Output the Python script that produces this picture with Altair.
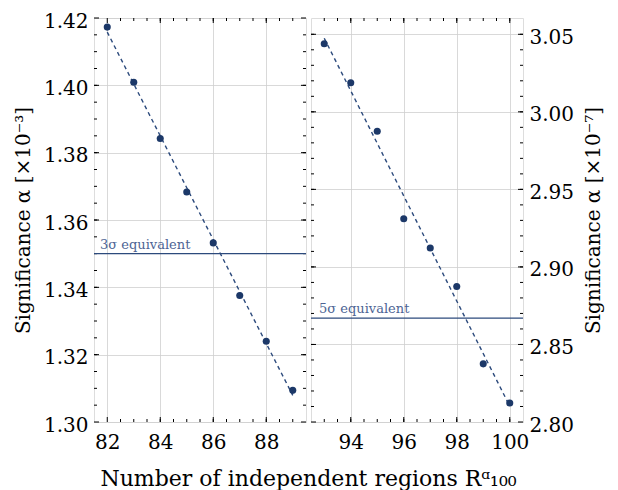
import altair as alt
import pandas as pd

# ---- data ----
x_left = [82, 83, 84, 85, 86, 87, 88, 89]
y_left = [1.4173, 1.4009, 1.3842, 1.3683, 1.3532, 1.3376, 1.3240, 1.3094]
x_right = [93, 94, 95, 96, 97, 98, 99, 100]
y_right = [3.0439, 3.0187, 2.9875, 2.9311, 2.9122, 2.8874, 2.8375, 2.8123]
thr_left = [1.35]
thr_right = [2.867]
lab_left = ["3σ equivalent"]
lab_right = ["5σ equivalent"]

x_major_left = [82, 84, 86, 88]
x_minor_left = [82.5 + 0.5 * i for i in range(14)]
y_major_left = [1.30, 1.32, 1.34, 1.36, 1.38, 1.40, 1.42]
y_minor_left = [round(1.305 + 0.005 * i, 3) for i in range(23)]
x_major_right = [94, 96, 98, 100]
x_minor_right = [93.0 + 0.5 * i for i in range(15)]
y_major_right = [2.80, 2.85, 2.90, 2.95, 3.00, 3.05]
y_minor_right = [round(2.81 + 0.01 * i, 2) for i in range(25)]

FONT = "DejaVu Serif"
NAVY = "#1c3868"
LINE = "#2c4a7c"
TXT = "#4d6494"
W, H = 212, 404
MAJ, MIN = 5, 3


def xticks(values, xsc, size):
    df = pd.DataFrame({"v": values})
    bottom = alt.Chart(df).mark_rule(color="black", strokeWidth=1).encode(
        x=alt.X("v:Q", scale=xsc, axis=None), y=alt.value(H), y2=alt.value(H - size))
    top = alt.Chart(df).mark_rule(color="black", strokeWidth=1).encode(
        x=alt.X("v:Q", scale=xsc, axis=None), y=alt.value(0), y2=alt.value(size))
    return [bottom, top]


def yticks(values, ysc, size):
    df = pd.DataFrame({"v": values})
    left = alt.Chart(df).mark_rule(color="black", strokeWidth=1).encode(
        y=alt.Y("v:Q", scale=ysc, axis=None), x=alt.value(0), x2=alt.value(size))
    right = alt.Chart(df).mark_rule(color="black", strokeWidth=1).encode(
        y=alt.Y("v:Q", scale=ysc, axis=None), x=alt.value(W), x2=alt.value(W - size))
    return [left, right]


def panel(xs, ys, xdom, ydom, xmaj, xmin, ymaj, ymin, yorient, ytitle, yfmt,
          thr, lab, side, tbase):
    df = pd.DataFrame({"x": xs, "y": ys})
    tdf = pd.DataFrame({"y": thr, "label": lab})
    xsc = alt.Scale(domain=xdom, nice=False, zero=False)
    ysc = alt.Scale(domain=ydom, nice=False, zero=False)
    base = alt.Chart(df)

    main_x = alt.Axis(values=xmaj, format="d", grid=True, gridColor="#cfcfcf",
                      gridWidth=0.8, ticks=False, domain=False, labelFont=FONT,
                      labelFontSize=20, labelColor="black", labelPadding=10,
                      title=None)
    main_y = alt.Axis(orient=yorient, values=ymaj, format=yfmt, grid=True,
                      gridColor="#cfcfcf", gridWidth=0.8, ticks=False,
                      domain=False, labelFont=FONT, labelFontSize=20,
                      labelColor="black", labelPadding=6, labelOffset=3,
                      title=ytitle,
                      titleFont=FONT, titleFontSize=20, titleFontWeight="normal",
                      titleColor="black", titleAngle=270, titleBaseline=tbase,
                      titlePadding=10)

    grid = base.mark_point(opacity=0).encode(
        x=alt.X("x:Q", scale=xsc, axis=main_x),
        y=alt.Y("y:Q", scale=ysc, axis=main_y))

    fit = base.transform_regression("x", "y").mark_line(
        color=LINE, strokeDash=[4, 3.5], strokeWidth=1.4).encode(
        x=alt.X("x:Q", scale=xsc, axis=None),
        y=alt.Y("y:Q", scale=ysc, axis=None))

    pts = base.mark_circle(size=50, color=NAVY, opacity=1).encode(
        x=alt.X("x:Q", scale=xsc, axis=None),
        y=alt.Y("y:Q", scale=ysc, axis=None))

    rule = alt.Chart(tdf).mark_rule(color=LINE, strokeWidth=1.3).encode(
        y=alt.Y("y:Q", scale=ysc, axis=None))
    text = alt.Chart(tdf).mark_text(align="left", baseline="alphabetic",
                                    font=FONT, fontSize=13, color=TXT,
                                    dy=-5).encode(
        x=alt.value(side),
        y=alt.Y("y:Q", scale=ysc, axis=None),
        text="label:N")

    ticks = (xticks(xmaj, xsc, MAJ) + xticks(xmin, xsc, MIN)
             + yticks(ymaj, ysc, MAJ) + yticks(ymin, ysc, MIN))

    return alt.layer(grid, *ticks, rule, text, fit, pts).resolve_axis(
        x="independent", y="independent").properties(width=W, height=H)


left = panel(x_left, y_left, [81.5, 89.5], [1.30, 1.42], x_major_left,
             x_minor_left, y_major_left, y_minor_left, "left",
             "Significance α [×10⁻³]", ".2f", thr_left, lab_left, 6, "bottom")
right = panel(x_right, y_right, [92.5, 100.5], [2.80, 3.0605], x_major_right,
              x_minor_right, y_major_right, y_minor_right, "right",
              "Significance α [×10⁻⁷]", ".2f", thr_right, lab_right, 8, "top")

chart = alt.hconcat(left, right, spacing=1).properties(
    title=alt.TitleParams(text="Number of independent regions Rᵅ₁₀₀",
                          orient="bottom", anchor="middle", font=FONT,
                          fontSize=22, fontWeight="normal", color="black",
                          offset=16),
    padding={"left": 4, "right": 5, "top": 2, "bottom": 5},
).configure_view(stroke="black", strokeWidth=1.5).configure(background="white")

chart.save("out.html", embed_options={"renderer": "svg", "actions": False})
